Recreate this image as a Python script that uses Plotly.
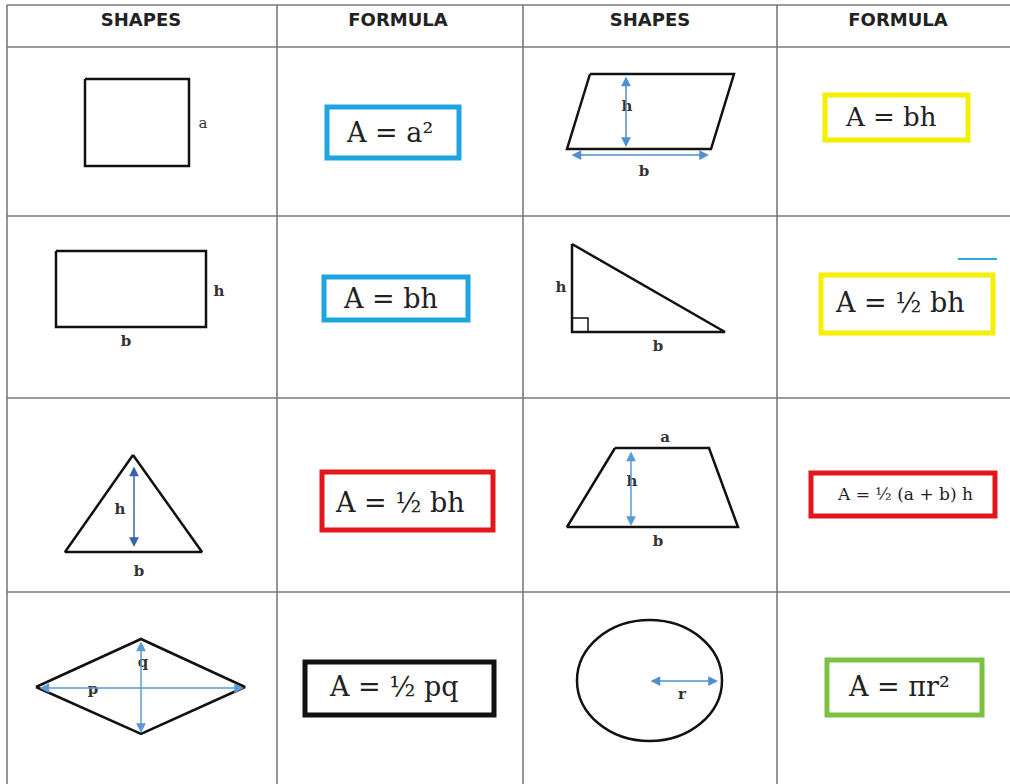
import plotly.graph_objects as go

# ------------------------------------------------------------------
# Area formulas table - drawn on a pixel-mapped cartesian plane
# ------------------------------------------------------------------

# table grid
col_lines = [7, 277, 523, 777]
row_lines = [5, 47, 216, 398, 592]
headers = ["SHAPES", "FORMULA", "SHAPES", "FORMULA"]
header_x = [141, 398, 650, 898]
header_y = 21

# shape outlines (closed polygons)
square_x = [85, 189, 189, 85, 85]
square_y = [79, 79, 166, 166, 79]
para_x = [590, 734, 711, 567, 590]
para_y = [74, 74, 149, 149, 74]
rect_x = [56, 206, 206, 56, 56]
rect_y = [251, 251, 327, 327, 251]
rtri_x = [572, 572, 725, 572]
rtri_y = [244, 332, 332, 244]
rmark_x = [572, 588, 588]
rmark_y = [318, 318, 332]
tri_x = [133, 202, 65, 133]
tri_y = [455, 552, 552, 455]
trap_x = [615, 709, 738, 567, 615]
trap_y = [448, 448, 527, 527, 448]
rhomb_x = [36, 141, 245, 141, 36]
rhomb_y = [687, 639, 687, 734, 687]
circle_box = [577, 722, 620, 741]

# blue double-headed measuring arrows: x0, y0, x1, y1
arrows = [
    [626, 75, 626, 147],
    [570, 155, 709, 155],
    [134, 465, 134, 547],
    [631, 450, 631, 526],
    [38, 688, 244, 688],
    [141, 640, 141, 733],
    [649, 681, 718, 681],
]
arrow_colors = ["#4f8fd0", "#4f8fd0", "#3b63a8", "#5b9bd5",
                "#5b9bd5", "#5b9bd5", "#4f8fd0"]

# dimension letters
labels = ["a", "h", "b", "h", "b", "h", "b", "h", "b", "a", "h", "b", "q", "p", "r"]
label_x = [203, 627, 644, 219, 126, 561, 658, 120, 139, 665, 632, 658, 143, 93, 682]
label_y = [124, 107, 172, 292, 342, 288, 347, 510, 572, 438, 482, 542, 663, 690, 695]
label_bold = [False, True, True, True, True, True, True, True, True, True, True, True, True, True, True]

# formula boxes
formulas = ["A = a²", "A = bh", "A = bh", "A = ½ bh",
            "A = ½ bh", "A = ½ (a + b) h", "A = ½ pq", "A = πr²"]
box_x0 = [327, 825, 324, 821, 322, 811, 305, 827]
box_x1 = [459, 968, 468, 993, 493, 995, 494, 982]
box_y0 = [107, 95, 277, 275, 472, 473, 662, 660]
box_y1 = [158, 140, 320, 333, 530, 516, 715, 715]
text_x = [389, 891, 390, 900, 400, 905, 394, 899]
text_y = [132, 117, 298, 302, 502, 494, 686, 686]
text_size = [27, 26, 27, 27, 27, 17, 27, 27]
box_colors = ["#1ea5e0", "#f4ee00", "#1ea5e0", "#f4ee00",
              "#e3171b", "#e3171b", "#111111", "#7cc242"]

W, H = 1010, 784

fig = go.Figure()

# grid lines
for x in col_lines:
    fig.add_shape(type="line", x0=x, x1=x, y0=row_lines[0], y1=H,
                  line=dict(color="#7a7a7a", width=1.6))
for y in row_lines:
    fig.add_shape(type="line", x0=col_lines[0], x1=W, y0=y, y1=y,
                  line=dict(color="#7a7a7a", width=1.6))

# outlines
for xs, ys in [(square_x, square_y), (para_x, para_y), (rect_x, rect_y),
               (rtri_x, rtri_y), (tri_x, tri_y), (trap_x, trap_y),
               (rhomb_x, rhomb_y)]:
    fig.add_trace(go.Scatter(x=xs, y=ys, mode="lines",
                             line=dict(color="#111111", width=2.5)))
fig.add_trace(go.Scatter(x=rmark_x, y=rmark_y, mode="lines",
                         line=dict(color="#111111", width=1.5)))
fig.add_shape(type="circle", x0=circle_box[0], x1=circle_box[1],
              y0=circle_box[2], y1=circle_box[3],
              line=dict(color="#111111", width=2.5))

# stray blue dash near the right triangle's formula
fig.add_shape(type="line", x0=958, x1=997, y0=259, y1=259,
              line=dict(color="#29a8e0", width=2))

# arrows
for (x0, y0, x1, y1), c in zip(arrows, arrow_colors):
    fig.add_annotation(x=x1, y=y1, ax=x0, ay=y0, xref="x", yref="y",
                       axref="x", ayref="y", text="", showarrow=True,
                       arrowhead=2, arrowside="end+start", arrowsize=1.3,
                       arrowwidth=1.5, arrowcolor=c, standoff=0, startstandoff=0)

# formula boxes + text
for i, f in enumerate(formulas):
    fig.add_shape(type="rect", x0=box_x0[i], x1=box_x1[i], y0=box_y0[i], y1=box_y1[i],
                  line=dict(color=box_colors[i], width=5), fillcolor="white")
    fig.add_annotation(x=text_x[i], y=text_y[i], text=f, showarrow=False,
                       font=dict(family="DejaVu Serif", size=text_size[i], color="#222222"))

# dimension labels
fig.add_trace(go.Scatter(x=label_x, y=label_y, mode="text",
                         text=["<b>%s</b>" % t if b else t for t, b in zip(labels, label_bold)],
                         textfont=dict(family="DejaVu Serif", size=15, color="#333333")))

# headers
fig.add_trace(go.Scatter(x=header_x, y=[header_y] * 4, mode="text",
                         text=["<b>%s</b>" % h for h in headers],
                         textfont=dict(family="DejaVu Sans", size=18, color="#222222")))

fig.update_xaxes(range=[0, W], visible=False, fixedrange=True)
fig.update_yaxes(range=[H, 0], visible=False, fixedrange=True)
fig.update_layout(
    width=W, height=H,
    margin=dict(l=0, r=0, t=0, b=0),
    plot_bgcolor="white", paper_bgcolor="white",
    showlegend=False,
)

# drop the page's default body margin so the figure sits at the top-left corner
fig.write_html("out.html", config={"displayModeBar": False},
               post_script="document.body.style.margin='0';document.body.style.overflow='hidden';")
